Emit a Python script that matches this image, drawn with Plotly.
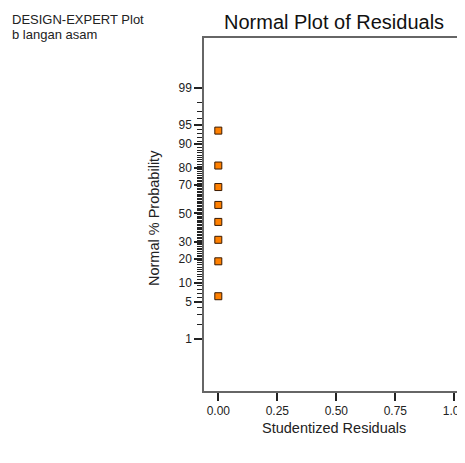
import plotly.graph_objects as go
from statistics import NormalDist

# ---- data ----
residuals = [0.0, 0.0, 0.0, 0.0, 0.0, 0.0, 0.0, 0.0]
probabilities = [6.25, 18.75, 31.25, 43.75, 56.25, 68.75, 81.25, 93.75]  # Normal % probability
major_prob_ticks = [1, 5, 10, 20, 30, 50, 70, 80, 90, 95, 99]
minor_prob_ticks = [p for p in range(1, 100) if p not in major_prob_ticks]
x_tick_vals = [0.0, 0.25, 0.5, 0.75, 1.0]
x_tick_text = ["0.00", "0.25", "0.50", "0.75", "1.00"]

nd = NormalDist()
z = lambda p: nd.inv_cdf(p / 100.0)

OFF = 8  # page body margin
W, H = 465 - OFF, 463 - OFF
L, T = 204 - OFF, 38 - OFF
R, B = 0, H - (391 - OFF)
PW, PH = W - L - R, H - T - B
def px(x):  # window pixel -> paper
    return (x - OFF - L) / PW
def py(y):
    return (H - B - (y - OFF)) / PH

FONT = "Liberation Sans, Arial, sans-serif"
TXT = "#222222"

fig = go.Figure()
fig.add_trace(go.Scatter(
    x=residuals,
    y=[z(p) for p in probabilities],
    mode="markers",
    marker=dict(symbol="square", size=7, color="#FF8000",
                line=dict(color="#3a1a00", width=1)),
    showlegend=False,
    hoverinfo="skip",
))

fig.update_layout(
    width=W, height=H,
    margin=dict(l=L, r=R, t=T, b=B, pad=0),
    paper_bgcolor="white", plot_bgcolor="white",
    font=dict(family=FONT, color=TXT, size=11),
    xaxis=dict(
        range=[-0.0606, 1.045],
        tickmode="array", tickvals=x_tick_vals, ticktext=x_tick_text,
        ticks="outside", ticklen=8, tickwidth=1.5, tickcolor="#222",
        showline=True, linecolor="#666", linewidth=1.5, mirror=True,
        showgrid=False, zeroline=False,
        tickfont=dict(size=12, color=TXT),
        ticklabeloverflow="allow",
        fixedrange=True,
    ),
    yaxis=dict(
        range=[-3.29, 3.25],
        tickmode="array",
        tickvals=[z(p) for p in major_prob_ticks],
        ticktext=[str(p) for p in major_prob_ticks],
        ticks="outside", ticklen=8, tickwidth=1.5, tickcolor="#222",
        minor=dict(tickmode="array", tickvals=[z(p) for p in minor_prob_ticks],
                   ticks="outside", ticklen=5, tickwidth=1, tickcolor="#222",
                   showgrid=False),
        showline=True, linecolor="#666", linewidth=1.5, mirror=False,
        showgrid=False, zeroline=False,
        tickfont=dict(size=12, color=TXT),
        fixedrange=True,
    ),
    annotations=[
        dict(text="DESIGN-EXPERT Plot", xref="paper", yref="paper",
             x=px(10), y=py(19), xanchor="left", yanchor="middle",
             showarrow=False, font=dict(size=13, color=TXT)),
        dict(text="b langan asam", xref="paper", yref="paper",
             x=px(10), y=py(35), xanchor="left", yanchor="middle",
             showarrow=False, font=dict(size=13, color=TXT)),
        dict(text="Normal Plot of Residuals", xref="paper", yref="paper",
             x=px(334), y=py(22), xanchor="center", yanchor="middle",
             showarrow=False, font=dict(size=20, color="#111")),
        dict(text="Normal % Probability", xref="paper", yref="paper",
             x=px(154), y=py(218), xanchor="center", yanchor="middle",
             textangle=-90, showarrow=False, font=dict(size=14.5, color=TXT)),
        dict(text="Studentized Residuals", xref="paper", yref="paper",
             x=px(334), y=py(428), xanchor="center", yanchor="middle",
             showarrow=False, font=dict(size=14.5, color=TXT)),
    ],
)

fig.write_html("out.html")
